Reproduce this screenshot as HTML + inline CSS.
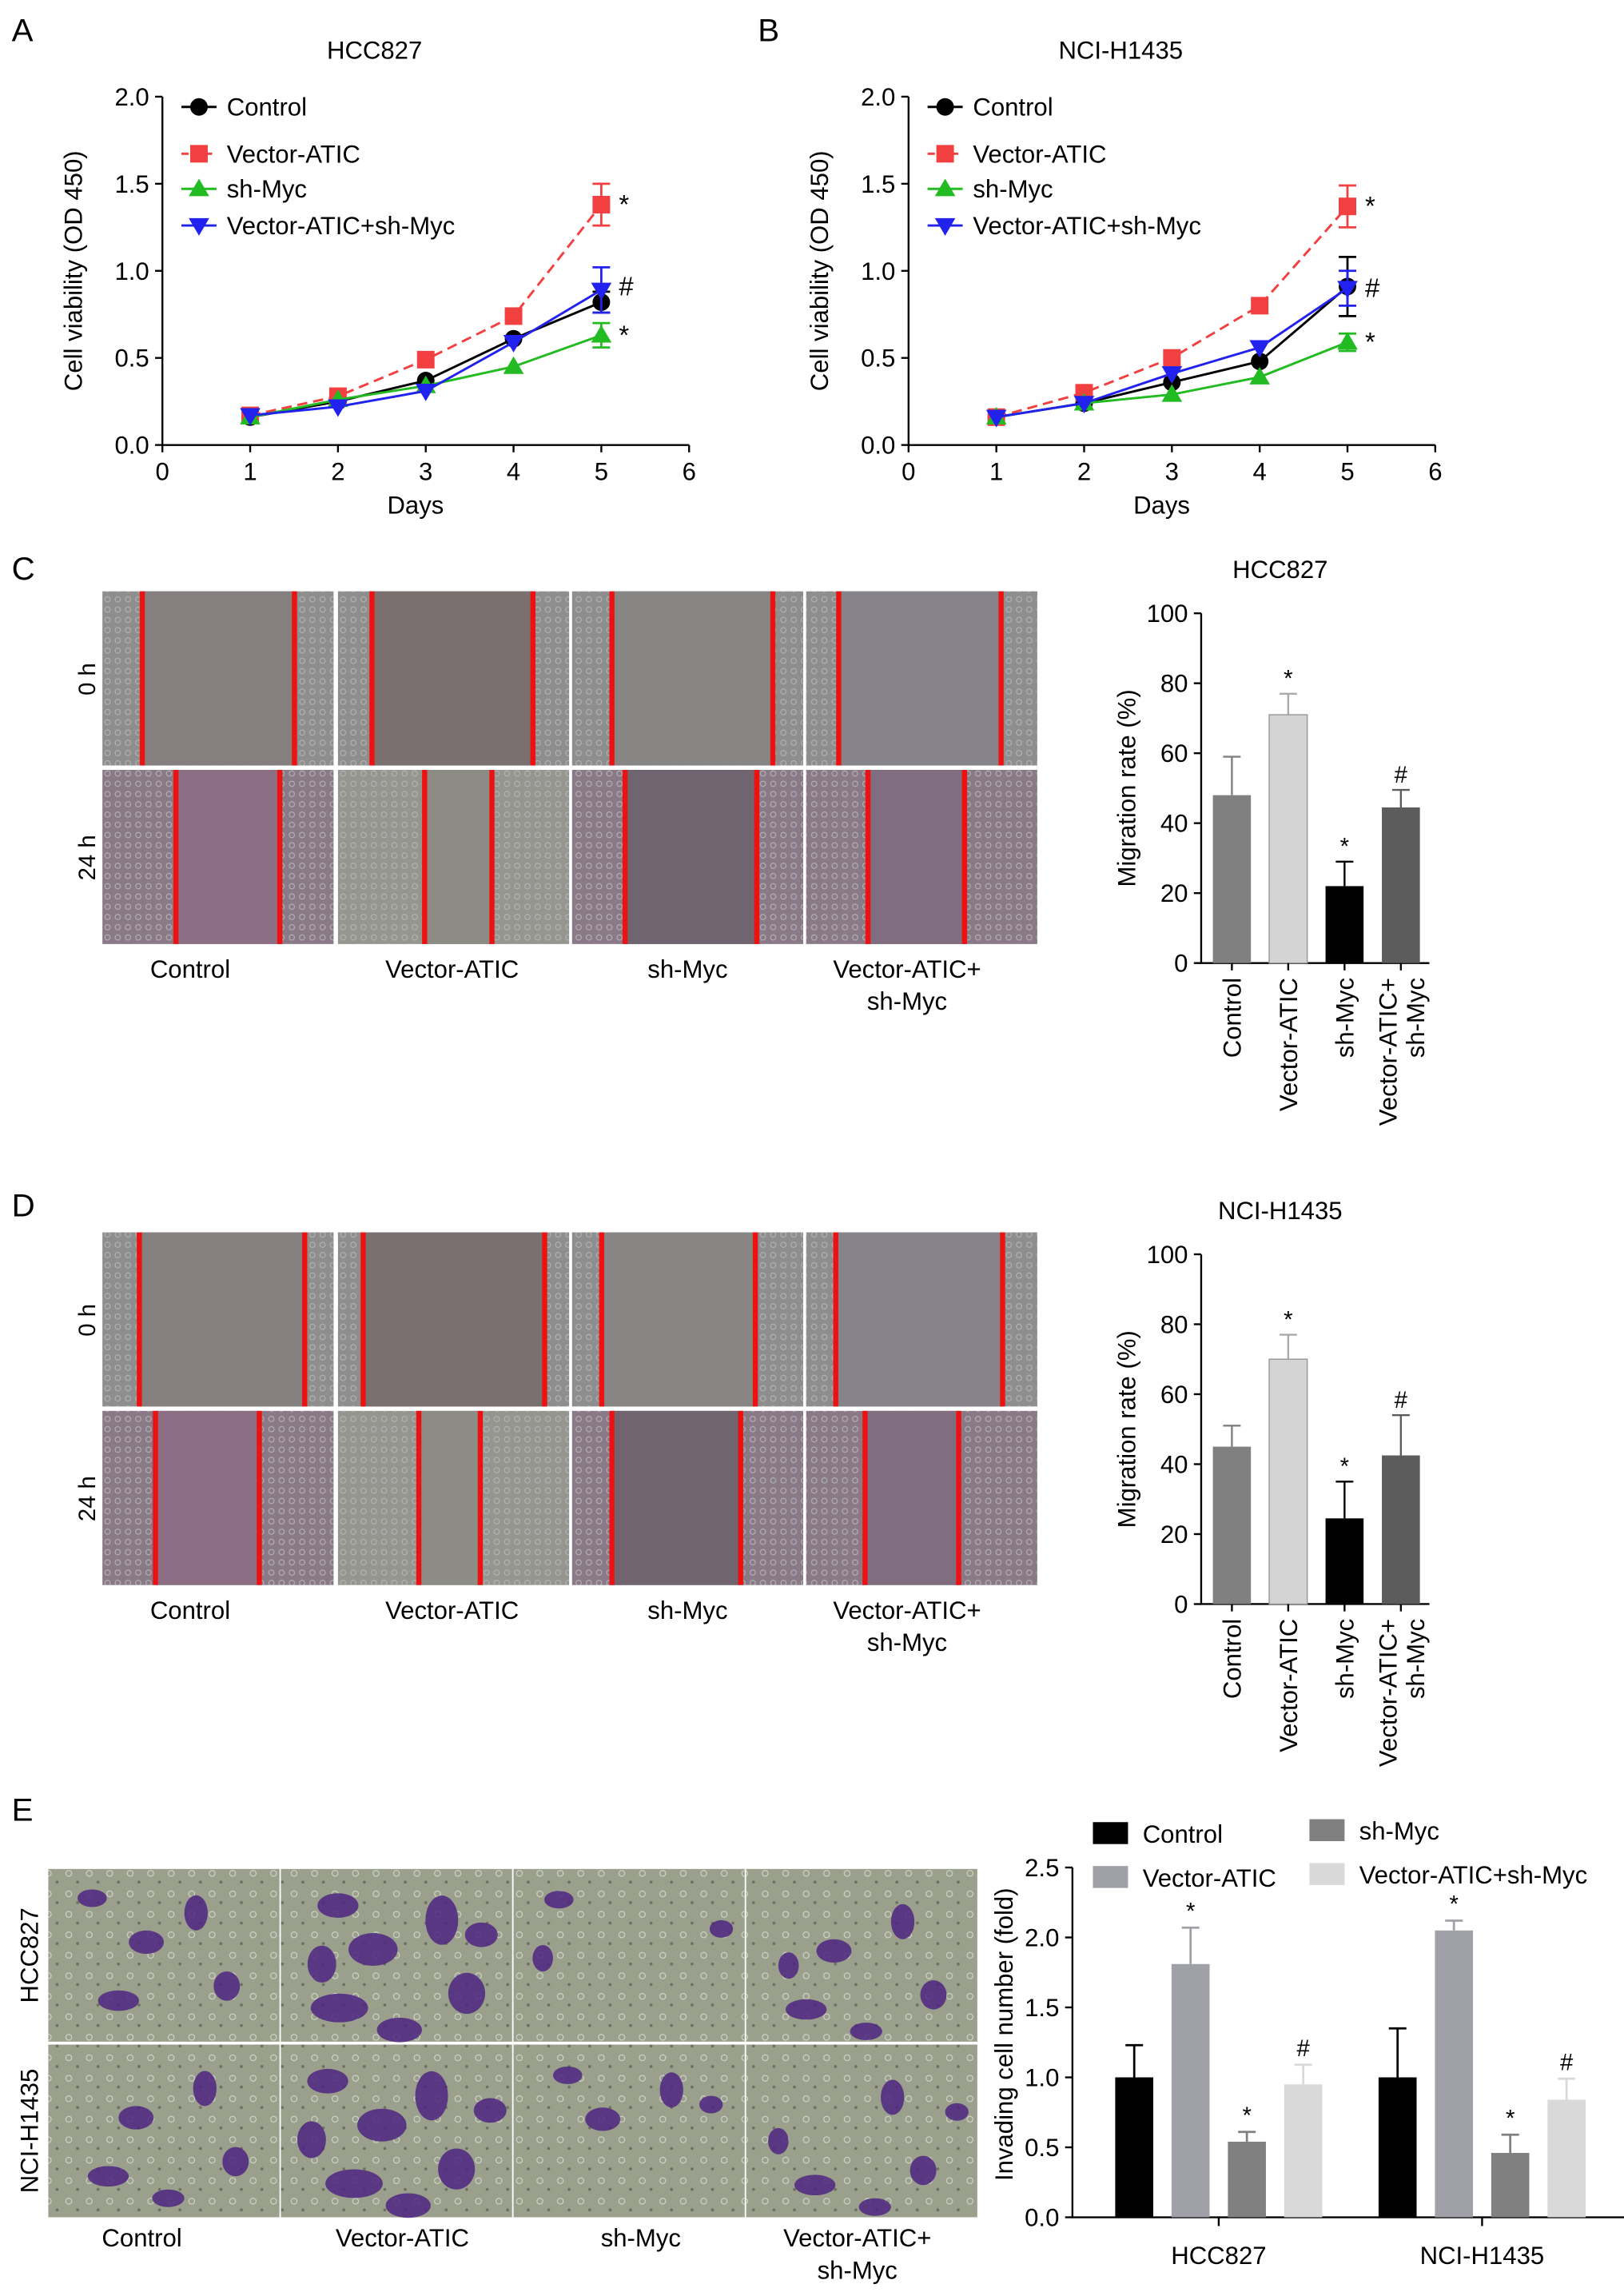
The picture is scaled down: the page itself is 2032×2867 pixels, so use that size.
<!DOCTYPE html>
<html><head><meta charset="utf-8"><style>
html,body{margin:0;padding:0;background:#fff;}
svg{display:block;font-family:"Liberation Sans",Arial,sans-serif;}
</style></head><body>
<svg id="fig" width="2032" height="2867" viewBox="0 0 1110 1566" xmlns="http://www.w3.org/2000/svg">
<defs>
<pattern id="cells" width="7" height="7" patternUnits="userSpaceOnUse"><circle cx="3.5" cy="3.5" r="1.8" fill="none" stroke="#b4b4b4" stroke-width="0.6"/></pattern>
<pattern id="cellsE" width="14" height="14" patternUnits="userSpaceOnUse"><circle cx="5" cy="6" r="2" fill="none" stroke="#d4d8cc" stroke-width="0.6"/><circle cx="11" cy="12" r="1" fill="#6d7060"/></pattern>
</defs>
<g id="root"></g>
</svg>
<script>
// ---- Panel A/B data (cell viability) ----
const days = [1, 2, 3, 4, 5];
const seriesNames = ["Control", "Vector-ATIC", "sh-Myc", "Vector-ATIC+sh-Myc"];
const aControl = [0.16, 0.25, 0.37, 0.61, 0.82];
const aVector = [0.17, 0.28, 0.49, 0.74, 1.38];
const aShMyc = [0.16, 0.26, 0.34, 0.45, 0.63];
const aCombo = [0.17, 0.22, 0.31, 0.59, 0.89];
const aErr5 = [0.06, 0.12, 0.07, 0.13];
const bControl = [0.16, 0.24, 0.36, 0.48, 0.91];
const bVector = [0.16, 0.30, 0.50, 0.80, 1.37];
const bShMyc = [0.16, 0.24, 0.29, 0.39, 0.59];
const bCombo = [0.16, 0.24, 0.41, 0.56, 0.90];
const bErr5 = [0.17, 0.12, 0.05, 0.10];
const lineYTicks = [0.0, 0.5, 1.0, 1.5, 2.0];
const lineXTicks = [0, 1, 2, 3, 4, 5, 6];
// ---- Panel C/D (migration) ----
const migCats = ["Control", "Vector-ATIC", "sh-Myc", "Vector-ATIC+|sh-Myc"];
const cMig = [48, 71, 22, 44.5];
const cMigErr = [11, 6, 7, 5];
const dMig = [45, 70, 24.5, 42.5];
const dMigErr = [6, 7, 10.5, 11.5];
const migMarks = ["", "*", "*", "#"];
const migTicks = [0, 20, 40, 60, 80, 100];
// ---- Panel E (invasion) ----
const invGroups = ["HCC827", "NCI-H1435"];
const invHCC = [1.0, 1.81, 0.54, 0.95];
const invHCCErr = [0.23, 0.26, 0.07, 0.14];
const invNCI = [1.0, 2.05, 0.46, 0.84];
const invNCIErr = [0.35, 0.07, 0.13, 0.15];
const invTicks = [0.0, 0.5, 1.0, 1.5, 2.0, 2.5];

const NS = "http://www.w3.org/2000/svg";
const root = document.getElementById("root");
function el(tag, attrs, parent) {
  const e = document.createElementNS(NS, tag);
  for (const k in attrs) e.setAttribute(k, attrs[k]);
  (parent || root).appendChild(e);
  return e;
}
function txt(x, y, s, size, name, extra) {
  const t = el("text", Object.assign({x: x, y: y, "font-size": size, fill: "#000"}, extra || {}));
  t.textContent = s;
  
  
  return t;
}

// ---------- line charts ----------
const colors = ["#000000", "#f24040", "#22bb22", "#2222ee"];
function lineChart(ox, title, letter, data, errs, marks) {
  const g = el("g", {});
  
  
  const x0 = ox, x1 = ox + 360, y0 = 304, y1 = 66;
  const X = d => x0 + (d / 6) * (x1 - x0);
  const Y = v => y0 - (v / 2) * (y0 - y1);
  txt(ox - 103, 28, letter, 22, 'panel-label-' + letter.toLowerCase());
  txt(ox + 145, 40, title, 17, 'chart-title', {"text-anchor": "middle"});
  const ax = el("path", {d: `M${x0} ${y1}V${y0}H${x1}`, stroke: "#000", "stroke-width": 1.3, fill: "none"}, g);
  
  
  lineYTicks.forEach(v => {
    el("line", {x1: x0 - 5, x2: x0, y1: Y(v), y2: Y(v), stroke: "#000", "stroke-width": 1.3}, g);
    txt(x0 - 9, Y(v) + 6, v.toFixed(1), 17, 'y-tick-label', {"text-anchor": "end"});
  });
  lineXTicks.forEach(v => {
    el("line", {x1: X(v), x2: X(v), y1: y0, y2: y0 + 5, stroke: "#000", "stroke-width": 1.3}, g);
    txt(X(v), y0 + 24, String(v), 17, 'x-tick-label', {"text-anchor": "middle"});
  });
  txt(ox + 173, 351, "Days", 17, 'x-axis-title', {"text-anchor": "middle"});
  txt(0, 0, "Cell viability (OD 450)", 17, 'y-axis-title', {"text-anchor": "middle", transform: `translate(${ox - 55},185) rotate(-90)`});
  data.forEach((arr, i) => {
    const pts = arr.map((v, j) => X(days[j]) + "," + Y(v)).join(" ");
    const pl = el("polyline", {points: pts, fill: "none", stroke: colors[i], "stroke-width": 1.6, "stroke-dasharray": i === 1 ? "7,4" : "none"}, g);
    
    
    const last = arr[arr.length - 1], e = errs[i];
    el("path", {d: `M${X(5)} ${Y(last - e)}V${Y(last + e)}M${X(5) - 6} ${Y(last - e)}h12M${X(5) - 6} ${Y(last + e)}h12`, stroke: colors[i], "stroke-width": 1.5, fill: "none"}, g);
    arr.forEach((v, j) => {
      const cx = X(days[j]), cy = Y(v);
      let m;
      if (i === 0) m = el("circle", {cx: cx, cy: cy, r: 6, fill: colors[0]}, g);
      else if (i === 1) m = el("rect", {x: cx - 6, y: cy - 6, width: 12, height: 12, fill: colors[1]}, g);
      else if (i === 2) m = el("path", {d: `M${cx} ${cy - 7}L${cx + 7} ${cy + 5}L${cx - 7} ${cy + 5}Z`, fill: colors[2]}, g);
      else m = el("path", {d: `M${cx} ${cy + 7}L${cx + 7} ${cy - 5}L${cx - 7} ${cy - 5}Z`, fill: colors[3]}, g);
      
      
    });
  });
  marks.forEach(mk => txt(ox + 312, Y(mk[0]) + 6, mk[1], 18, 'significance-mark'));
  const ly = [73, 105, 129, 154];
  seriesNames.forEach((n, i) => {
    const lg = el("g", {}, g);
    
    
    el("line", {x1: ox + 13, x2: ox + 37, y1: ly[i], y2: ly[i], stroke: colors[i], "stroke-width": 1.6, "stroke-dasharray": i === 1 ? "5,3" : "none"}, lg);
    const cx = ox + 25, cy = ly[i];
    if (i === 0) el("circle", {cx: cx, cy: cy, r: 6, fill: colors[0]}, lg);
    else if (i === 1) el("rect", {x: cx - 6, y: cy - 6, width: 12, height: 12, fill: colors[1]}, lg);
    else if (i === 2) el("path", {d: `M${cx} ${cy - 7}L${cx + 7} ${cy + 5}L${cx - 7} ${cy + 5}Z`, fill: colors[2]}, lg);
    else el("path", {d: `M${cx} ${cy + 7}L${cx + 7} ${cy - 5}L${cx - 7} ${cy - 5}Z`, fill: colors[3]}, lg);
    txt(ox + 44, ly[i] + 6, n, 17, 'legend-label');
  });
}
lineChart(111, "HCC827", "A", [aControl, aVector, aShMyc, aCombo], aErr5,
  [[aVector[4], "*"], [aCombo[4] + 0.02, "#"], [aShMyc[4], "*"]]);
lineChart(621, "NCI-H1435", "B", [bControl, bVector, bShMyc, bCombo], bErr5,
  [[bVector[4], "*"], [bCombo[4], "#"], [bShMyc[4], "*"]]);

// ---------- wound healing images ----------
function woundPanel(top, name, rows, colLabelY) {
  const xs = [70, 231, 391, 551], w = 158;
  const fills0 = ["#85807f", "#7a7070", "#888585", "#86848a"];
  const fills24 = ["#8c6f85", "#8c8c84", "#6f6470", "#806e80"];
  rows.forEach((r, ri) => {
    const y = top + ri * 122, h = 119;
    xs.forEach((x, ci) => {
      const g = el("g", {});
      
      
      el("rect", {x: x, y: y, width: w, height: h, fill: ri === 0 ? "#8e8e8e" : (ci === 1 ? "#969690" : "#8a7a88")}, g);
      el("rect", {x: x, y: y, width: w, height: h, fill: "url(#cells)"}, g);
      const l = r[ci][0], rr = r[ci][1];
      el("rect", {x: x + l, y: y, width: rr - l, height: h, fill: ri === 0 ? fills0[ci] : fills24[ci]}, g);
      el("rect", {x: x + l - 1.5, y: y, width: 3.5, height: h, fill: "#ee1111"}, g);
      el("rect", {x: x + rr - 1.5, y: y, width: 3.5, height: h, fill: "#ee1111"}, g);
    });
    txt(0, 0, ri === 0 ? "0 h" : "24 h", 16, 'row-label', {"text-anchor": "middle", transform: `translate(${65},${y + 60}) rotate(-90)`});
  });
  const lx = [130, 309, 470, 620];
  migCats.forEach((c, i) => {
    const parts = c.split("|");
    parts.forEach((p, k) => txt(lx[i], colLabelY + k * 22, p, 17, 'image-column-label', {"text-anchor": "middle"}));
  });
}
woundPanel(404, "wound-c", [
  [[27, 131], [23, 133], [27, 137], [22, 133]],
  [[50, 121], [59, 105], [36, 126], [42, 108]]
], 668);
woundPanel(842, "wound-d", [
  [[25, 138], [17, 141], [20, 125], [20, 134]],
  [[36, 107], [55, 97], [27, 115], [40, 104]]
], 1106);
txt(8, 396, "C", 22, 'panel-label-c');
txt(8, 831, "D", 22, 'panel-label-d');

// ---------- migration bar charts ----------
const migColors = ["#808080", "#d4d4d4", "#000000", "#5c5c5c"];
function migChart(top, title, vals, errs, letter) {
  const g = el("g", {});
  
  
  const x0 = 821, x1 = 977, yTop = top, yBot = top + 239;
  const Y = v => yBot - (v / 100) * (yBot - yTop);
  const bx = i => 842 + i * 38.5;
  txt(875, top - 24, title, 17, 'chart-title', {"text-anchor": "middle"});
  el("path", {d: `M${x0} ${yTop}V${yBot}H${x1}`, stroke: "#000", "stroke-width": 1.3, fill: "none"}, g);
  migTicks.forEach(v => {
    el("line", {x1: x0 - 5, x2: x0, y1: Y(v), y2: Y(v), stroke: "#000", "stroke-width": 1.3}, g);
    txt(x0 - 9, Y(v) + 6, String(v), 17, 'y-tick-label', {"text-anchor": "end"});
  });
  txt(0, 0, "Migration rate (%)", 17, 'y-axis-title', {"text-anchor": "middle", transform: `translate(776,${(yTop + yBot) / 2}) rotate(-90)`});
  vals.forEach((v, i) => {
    const cx = bx(i);
    el("path", {d: `M${cx} ${Y(v)}V${Y(v + errs[i])}M${cx - 6} ${Y(v + errs[i])}h12`, stroke: migColors[i] === "#d4d4d4" ? "#aaa" : migColors[i], "stroke-width": 1.3}, g);
    const b = el("rect", {x: cx - 13, y: Y(v), width: 26, height: yBot - Y(v), fill: migColors[i], stroke: i === 1 ? "#999" : "none", "stroke-width": 0.8}, g);
    
    
    el("line", {x1: cx, x2: cx, y1: yBot, y2: yBot + 5, stroke: "#000", "stroke-width": 1.3}, g);
    if (migMarks[i]) txt(cx, Y(v + errs[i]) - 5, migMarks[i], 16, 'significance-mark', {"text-anchor": "middle"});
    const parts = migCats[i].split("|");
    parts.forEach((p, k) => {
      const off = parts.length === 2 ? (k === 0 ? -9 : 10) : 0;
      txt(0, 0, p, 17, 'x-tick-label', {"text-anchor": "end", transform: `translate(${cx + 6 + off},${yBot + 10}) rotate(-90)`});
    });
  });
}
migChart(419, "HCC827", cMig, cMigErr, "c");
migChart(857, "NCI-H1435", dMig, dMigErr, "d");

// ---------- invasion images ----------
txt(8, 1244, "E", 22, 'panel-label-e');
const blobs = [[30,20,10,6],[60,50,12,8],[100,30,8,12],[40,90,14,7],[120,80,9,10],[80,105,11,6],[20,60,7,9],[135,40,8,6]];
const blobCount = [[5,8,3,6],[5,8,4,6]];
[0, 1].forEach(ri => {
  [33, 192, 351, 510].forEach((x, ci) => {
    const y = 1277 + ri * 120;
    const g = el("g", {});
    
    
    el("rect", {x: x, y: y, width: 158, height: 118, fill: "#9aa08c"}, g);
    el("rect", {x: x, y: y, width: 158, height: 118, fill: "url(#cellsE)"}, g);
    const n = blobCount[ri][ci];
    for (let k = 0; k < n; k++) {
      const b = blobs[(k + ci * 3 + ri) % blobs.length];
      el("ellipse", {cx: x + b[0] + (k * 7 % 13), cy: y + b[1] + (ci * 5 % 9), rx: b[2] * (ci === 1 ? 1.4 : 1), ry: b[3] * (ci === 1 ? 1.4 : 1), fill: "#4e2580", opacity: 0.85}, g);
    }
  });
  txt(0, 0, ri === 0 ? "HCC827" : "NCI-H1435", 17, 'row-label', {"text-anchor": "middle", transform: `translate(26,${1336 + ri * 120}) rotate(-90)`});
});
[[97, ["Control"]], [275, ["Vector-ATIC"]], [438, ["sh-Myc"]], [586, ["Vector-ATIC+", "sh-Myc"]]].forEach(c => {
  c[1].forEach((p, k) => txt(c[0], 1535 + k * 22, p, 17, 'image-column-label', {"text-anchor": "middle"}));
});

// ---------- invasion bar chart ----------
(function () {
  const invColors = ["#000000", "#a0a0a8", "#808080", "#d9d9d9"];
  const g = el("g", {});
  
  
  const x0 = 733, x1 = 1110, yTop = 1276, yBot = 1515;
  const Y = v => yBot - (v / 2.5) * (yBot - yTop);
  el("path", {d: `M${x0} ${yTop}V${yBot}H${x1}`, stroke: "#000", "stroke-width": 1.3, fill: "none"}, g);
  invTicks.forEach(v => {
    el("line", {x1: x0 - 5, x2: x0, y1: Y(v), y2: Y(v), stroke: "#000", "stroke-width": 1.3}, g);
    txt(x0 - 9, Y(v) + 6, v.toFixed(1), 17, 'y-tick-label', {"text-anchor": "end"});
  });
  txt(0, 0, "Invading cell number (fold)", 17, 'y-axis-title', {"text-anchor": "middle", transform: `translate(692,1390) rotate(-90)`});
  const groupCenters = [833, 1013];
  const data = [[invHCC, invHCCErr], [invNCI, invNCIErr]];
  data.forEach((gd, gi) => {
    const gc = groupCenters[gi];
    el("line", {x1: gc, x2: gc, y1: yBot, y2: yBot + 6, stroke: "#000", "stroke-width": 1.3}, g);
    txt(gc, 1547, invGroups[gi], 17, 'x-tick-label', {"text-anchor": "middle"});
    gd[0].forEach((v, i) => {
      const cx = gc - 57.75 + i * 38.5, e = gd[1][i];
      el("path", {d: `M${cx} ${Y(v)}V${Y(v + e)}M${cx - 6} ${Y(v + e)}h12`, stroke: i === 0 ? "#000" : invColors[i], "stroke-width": 1.5}, g);
      const b = el("rect", {x: cx - 13, y: Y(v), width: 26, height: yBot - Y(v), fill: invColors[i]}, g);
      
      
      if (migMarks[i]) txt(cx, Y(v + e) - 6, migMarks[i], 16, 'significance-mark', {"text-anchor": "middle"});
    });
  });
  const leg = [[747, 1252, "Control"], [747, 1282, "Vector-ATIC"], [895, 1250, "sh-Myc"], [895, 1280, "Vector-ATIC+sh-Myc"]];
  leg.forEach((l, i) => {
    const lg = el("g", {}, g);
    
    
    el("rect", {x: l[0], y: l[1] - 7, width: 24, height: 15, fill: invColors[i]}, lg);
    txt(l[0] + 34, l[1] + 7, l[2], 17, 'legend-label');
  });
})();
</script>
</body></html>
